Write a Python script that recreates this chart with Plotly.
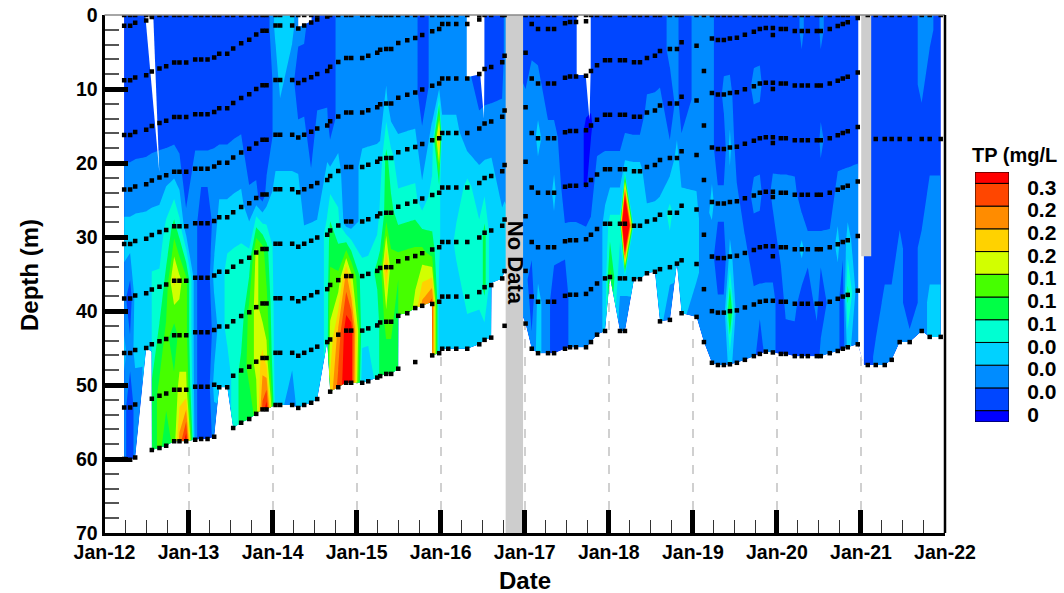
import numpy as np
import plotly.graph_objects as go

FONT = "Liberation Sans"

# Survey dates as decimal years
survey_dates = [
 2012.234,2012.305,2012.365,2012.496,2012.56,2012.563,2012.654,2012.734,2012.829,2012.892,2012.972,
 2013.079,2013.150,2013.226,2013.305,2013.365,2013.460,2013.531,2013.626,2013.722,2013.805,2013.880,2013.928,
 2014.035,2014.090,2014.233,2014.305,2014.376,2014.459,2014.531,2014.650,2014.685,2014.781,2014.876,2014.935,
 2015.066,2015.138,2015.245,2015.280,2015.352,2015.411,2015.495,2015.497,2015.602,2015.697,2015.780,2015.895,2015.899,2015.982,
 2016.018,2016.090,2016.185,2016.316,2016.459,2016.522,2016.601,2016.605,2016.732,2016.760,
 2017.010,2017.083,2017.158,2017.277,2017.349,2017.479,2017.539,2017.610,2017.729,2017.788,2017.860,2017.955,
 2018.014,2018.133,2018.192,2018.300,2018.371,2018.454,2018.549,2018.609,2018.727,2018.811,2018.866,
 2019.044,2019.132,2019.227,2019.298,2019.369,2019.441,2019.524,2019.619,2019.726,2019.797,2019.868,2019.952,
 2020.047,2020.106,2020.213,2020.296,2020.368,2020.475,2020.522,2020.629,2020.724,2020.784,2020.843,2020.962,
 2021.037,2021.081,2021.176,2021.283,2021.366,2021.461,2021.580,2021.723,2021.818,2021.949]

# Depth (m) of one fixed-elevation sampling row at each date; it moves with lake level
reference_row_depth = [
 16.2,16.2,15.8,15.5,15.0,15.0,14.6,14.3,13.8,13.8,13.8,
 13.4,13.4,13.4,13.1,12.6,12.6,11.9,11.2,10.7,10.0,9.5,9.5,
 8.8,8.8,8.8,9.2,8.8,8.4,7.97,7.57,7.0,6.35,5.8,5.8,
 5.8,5.5,5.1,4.7,4.6,4.6,3.8,3.8,3.4,3.1,2.7,2.2,2.2,1.9,
 1.2,1.2,1.2,1.2,0.6,-0.07,-0.35,-0.35,-1.0,-1.85,
 -2.27,1.2,1.9,1.9,1.9,1.1,0.95,0.95,0.84,0.2,-0.57,-1.26,
 -1.26,-1.26,-1.26,-1.0,-1.0,-1.57,-1.85,-2.5,-2.77,-2.77,-3.7,
 -3.2,0.2,-4.2,-4.0,-4.0,-4.2,-4.3,-4.7,-5.1,-5.47,-5.6,-5.6,
 -5.47,-5.47,-5.2,-5.2,-5.2,-5.2,-5.2,-5.47,-5.87,-6.17,-6.4,-6.97,
 -5.35,-5.35,-5.35,-5.35,-5.35,-5.35,-5.35,-5.35,-5.35,-5.35]

# Depth (m) of the deepest point at each date
bottom_depth = [
 60.0,60.1,59.8,45.0,45.5,58.8,58.5,58.2,57.6,57.6,57.6,
 57.4,57.3,57.3,57.0,50.3,50.3,55.8,55.1,54.6,53.9,53.3,53.3,
 52.7,52.7,52.7,53.1,52.7,52.4,51.9,44.2,50.9,50.3,49.7,49.7,
 49.7,49.5,49.0,48.8,48.5,48.5,47.8,40.5,40.3,39.6,39.3,38.8,46.0,45.7,
 45.1,45.1,45.1,45.1,44.5,43.9,43.6,36.2,35.6,34.6,
 41.7,45.1,45.7,45.7,45.7,45.1,44.9,44.9,44.9,44.2,43.2,42.7,
 35.4,42.7,42.7,35.7,35.7,34.9,34.7,41.4,41.2,33.6,40.3,
 40.8,44.2,47.0,47.3,47.3,47.2,47.0,46.6,46.1,45.8,45.5,45.6,
 45.8,45.8,46.1,46.1,46.1,46.1,46.1,45.7,45.4,45.1,44.9,44.5,
 47.3,47.3,47.3,47.3,46.6,44.2,44.2,42.7,43.5,43.5]

# TP (hundredths of mg/L), top sampled row downward, one profile per date
tp_profiles = [
 [1,1,1,5,7,4,7,4,4],[1,1,1,5,7,1,4,1,1],[1,1,1,5,7,7,7,4,4],[1,1,1,5,7,7,7],[1,1,1,5,7,7,7],
 [1,1,1,5,7,10,10,13,13],[1,1,5,7,10,13,16,16],[1,1,5,10,13,16,16,13],[1,1,5,13,22,13,16,16],[1,1,4,10,19,16,19,25],[1,1,1,4,16,16,19,32],
 [1,1,4,4,4,4,4,4],[1,1,4,1,1,1,1,1],[1,1,4,1,1,1,1,1],[1,1,4,4,7,4,7,4],[1,1,4,7,7,7,7,7],[1,1,4,7,10,10,7,7],[1,1,4,7,10,10,10,10],
 [1,1,4,7,10,10,13,13],[1,1,1,4,10,16,16,13],[1,1,1,4,19,19,19,16],[1,1,1,1,16,16,22,28],[1,1,1,4,13,16,19,32],
 [7,4,4,7,7,7,7,7],[7,7,4,7,7,7,7,7],[7,4,4,7,7,7,7,4],[4,1,4,7,7,7,7,7],[4,1,4,4,7,7,7,7],[1,1,1,4,7,7,7,7],[1,1,4,4,7,7,7,7],
 [1,1,4,7,10,10,10],[1,1,7,13,16,19,22],[4,4,7,10,16,25,28],[4,4,4,4,25,32,32],[4,4,4,4,19,32,32],
 [4,4,7,7,10,10,7],[4,4,7,7,10,10,7],[4,4,7,7,13,10,10],[4,4,7,10,13,13,13],[4,7,13,13,25,16,13],[4,4,10,13,16,16,13],[4,4,7,10,16,13,13],
 [4,4,7,10,16,16],[4,4,7,10,16,16],[4,4,7,10,16,19],[1,1,4,7,16,25],[4,4,7,10,13,28],[4,4,7,10,13,28,28],[4,4,25,10,10,7,7],
 [4,4,7,7,7,7,7],[4,4,7,7,7,7,7],[4,4,7,7,10,7,7],[4,4,4,10,10,10,7],[1,1,4,7,10,10,7],[1,4,7,13,13,7],[1,4,7,7,7,7],[1,4,7,7,7],[1,4,4,7,7],[4,4,4,7,7],
 [1,4,4,4,4,4],[1,4,4,4,4,1,4],[1,4,7,4,4,7,7],[1,1,4,4,4,4,4],[1,1,4,7,4,1,1],[1,1,1,1,4,1,1],[1,1,1,1,4,4,4],[1,1,1,1,4,4,4],
 [1,1,-0.3,-0.3,4,4,4],[1,1,-0.3,1,4,4,4],[1,1,4,4,4,4],[1,1,4,7,7,7],
 [1,1,4,10,16],[1,1,4,10,7,4],[1,1,7,55,7,4],[1,1,7,7,7],[1,1,7,7,7],[1,4,4,7,7],[1,4,4,7,7],[1,4,4,7,7,7],[4,1,4,10,7,4],[4,4,7,7,7],[1,1,4,7,7,7],
 [4,4,4,7,7,4],[4,4,4,4,4,4,4],[4,4,4,7,4,4,4],[1,1,1,4,1,4,4],[1,4,1,4,1,4,4],[1,4,7,4,7,16,7],[1,1,1,4,4,4,4],[1,1,1,1,4,4,4],[1,4,1,4,1,4,4],[1,4,1,4,1,4,1],[1,1,1,1,1,4,4],[1,1,1,4,1,4,4],
 [1,1,1,4,4,1,1],[1,1,1,4,4,4,1],[1,1,1,4,4,4,1],[4,1,1,1,7,1,1],[1,1,1,1,4,1,1],[1,1,1,1,4,4,1],[4,1,4,1,4,1,4],[1,1,1,1,4,4,4],[1,1,1,4,7,4,4],[1,1,1,4,4,1,1],[1,1,1,4,7,13,7],[1,1,1,4,4,4,4],
 [1,1,1,1,1,1,1],[1,1,1,1,1,1,1],[1,1,1,1,1,1,4],[1,1,1,1,1,4,4],[1,1,1,1,1,4,4],[1,1,1,1,4,4,4],[1,1,1,1,1,1,4],[4,4,1,1,4,4],[4,1,1,4,4,7,7],[1,1,1,4,4,7,7]]

# Columns that only square off the edge of the contour, no sample drawn there
edge_only_dates = [2012.56, 2015.497, 2015.895, 2016.605, 2021.037]
surface_tp = {2016.732: 13, 2016.760: 16}

# Samples that do not sit on the regular rows
extra_dates = [2015.697, 2016.760, 2019.952, 2019.952, 2019.952, 2019.952, 2019.952]
extra_depths = [46.9, 42.0, 2.7, 10.0, 17.3, 24.6, 32.6]

# Areas with no data inside the survey range
gap_shapes = [
 ([2012.485,2012.58,2012.652], [0,0,21.2]),
 ([2014.305,2014.464,2014.464,2014.305], [0,0,0.8,1.7]),
 ([2016.31,2016.52,2016.52,2016.515,2016.47,2016.31], [0,0,7.2,14,8,8.4]),
 ([2017.618,2017.785,2017.785,2017.77,2017.725,2017.618], [0,0,7.2,14.2,8.1,8.1]),
 ([2020.968,2021.035,2021.035,2020.968], [0,0,47.4,44.6]),
]
no_data_bars = [([2016.773,2016.98], 70, "No Data"), ([2021.003,2021.122], 32.6, "")]

row_spacing = 7.37
row_offsets = list(range(-2, 9))   # rows relative to the reference row, shallow to deep

level_start, level_end, level_size = 0.0, 0.30, 0.03
band_colors = ["#0000ff","#0046ff","#008cff","#00d2ff","#00ffd2","#00ff46",
               "#46ff00","#d2ff00","#ffd200","#ff8c00","#ff4600","#ff0000"]
level_labels = ["0","0.0","0.0","0.0","0.1","0.1","0.1","0.2","0.2","0.2","0.3"]
year_ticks = list(range(2012, 2023))
year_labels = [f"Jan-{str(y)[2:]}" for y in year_ticks]

# Build the warped mesh: surface row, sampling rows, bottom row
dates = np.array(survey_dates, float)
nrows = len(row_offsets) + 2
mesh_x = np.zeros((nrows, len(dates)))
mesh_y = np.zeros((nrows, len(dates)))
mesh_z = np.zeros((nrows, len(dates)))
mark_x, mark_y = [], []
for c, (d, ref, bot, prof) in enumerate(zip(survey_dates, reference_row_depth, bottom_depth, tp_profiles)):
    depths = [ref + k * row_spacing for k in row_offsets]
    first = next(i for i, v in enumerate(depths) if v > 0)
    col_y, col_z = [0.0], [surface_tp.get(d, prof[0])]
    for i, v in enumerate(depths):
        idx = max(i - first, 0)
        col_y.append(min(max(v, 0.0), bot))
        col_z.append(prof[min(idx, len(prof) - 1)])
    col_y.append(bot)
    col_z.append(prof[-1])
    mesh_x[:, c] = d
    mesh_y[:, c] = col_y
    mesh_z[:, c] = col_z
    if d in edge_only_dates:
        continue
    mark_x += [d, d]
    mark_y += [0.0, bot]
    for v in depths:
        if d > 2021:
            continue
        if 0.2 < v < bot - 1.0:
            mark_x.append(d)
            mark_y.append(v)
    if 2021.1 < d:
        mark_x.append(d)
        mark_y.append(16.76)
mark_x += extra_dates
mark_y += extra_depths

fig = go.Figure()
a_vals = list(range(len(dates)))
b_vals = list(range(nrows))
hidden = dict(showgrid=False, showline=False, showticklabels="none",
              startline=False, endline=False, smoothing=0, minorgridcount=0)
fig.add_trace(go.Carpet(a=a_vals, b=b_vals, x=mesh_x.tolist(), y=mesh_y.tolist(),
                        carpet="mesh", aaxis=hidden, baxis=hidden, xaxis="x", yaxis="y"))
n_bands = len(band_colors)
fig.add_trace(go.Contourcarpet(a=a_vals, b=b_vals, z=(mesh_z * 0.01).tolist(), carpet="mesh",
    autocontour=False, contours=dict(start=level_start, end=level_end, size=level_size, coloring="fill", showlines=False),
    line=dict(width=0, smoothing=0), showscale=False, xaxis="x", yaxis="y",
    colorscale=[[i / (n_bands - 1), c] for i, c in enumerate(band_colors)]))

for gx, gy in gap_shapes:
    fig.add_trace(go.Scatter(x=gx, y=gy, mode="lines", fill="toself", fillcolor="white",
                             line=dict(width=0, color="white"), hoverinfo="skip", showlegend=False))
for (bx, bdepth, _) in no_data_bars:
    fig.add_trace(go.Scatter(x=[bx[0], bx[1], bx[1], bx[0]], y=[0, 0, bdepth, bdepth], mode="lines", fill="toself",
                             fillcolor="#cdcdcd", line=dict(width=0, color="#cdcdcd"), hoverinfo="skip", showlegend=False))
fig.add_trace(go.Scatter(x=mark_x, y=mark_y, mode="markers", showlegend=False,
                         marker=dict(symbol="square", size=4.5, color="black", line=dict(width=0))))

# Legend drawn as stacked boxes on its own axes
box_edges = [level_start - level_size / 2] + [level_start + i * level_size for i in range(11)] + [level_end + level_size / 2]
fig.add_trace(go.Bar(x=[0] * n_bands, base=box_edges[:-1], y=np.diff(box_edges).tolist(), width=1,
                     marker=dict(color=band_colors, line=dict(color="black", width=1)),
                     xaxis="x2", yaxis="y2", showlegend=False, hoverinfo="skip"))

W, H = 1064, 593
def fx(px):
    return px / W
def fy(py):
    return 1 - py / H

fig.update_layout(
    width=W, height=H, margin=dict(l=0, r=0, t=0, b=0), paper_bgcolor="white", plot_bgcolor="white",
    showlegend=False, barmode="overlay",
    font=dict(family=FONT, color="black", size=20, weight=700),
    xaxis=dict(domain=[fx(104.5), fx(945)], range=[2012, 2022], tickmode="array", tickvals=year_ticks, ticktext=year_labels,
               ticks="inside", ticklen=23, tickwidth=5, tickcolor="black", showline=True, linewidth=3, linecolor="black",
               showgrid=True, gridcolor="#d0d0d0", griddash="dash", gridwidth=1.5, zeroline=False, automargin=False,
               tickfont=dict(family=FONT, size=19.5, weight=700), layer="above traces",
               minor=dict(ticks="inside", ticklen=13, tickwidth=1, tickcolor="#333333", dtick=0.25, tick0=2012, showgrid=False)),
    yaxis=dict(domain=[fy(533), fy(15)], range=[70, 0], tickmode="array", tickvals=list(range(0, 71, 10)),
               ticks="inside", ticklen=23, tickwidth=5, tickcolor="black", showline=True, linewidth=3, linecolor="black",
               showgrid=False, zeroline=False, automargin=False, tickfont=dict(family=FONT, size=19.5, weight=700), layer="above traces",
               minor=dict(ticks="inside", ticklen=14, tickwidth=1.5, tickcolor="#555555", dtick=2, tick0=0, showgrid=False)),
    xaxis2=dict(domain=[fx(975), fx(1009)], range=[-0.5, 0.5], showticklabels=False, ticks="", showgrid=False, zeroline=False,
                showline=False, anchor="y2", automargin=False),
    yaxis2=dict(domain=[fy(422), fy(172)], range=[box_edges[0], box_edges[-1]], anchor="x2", side="right",
                tickmode="array", tickvals=[level_start + i * level_size - 0.005 for i in range(11)], ticktext=level_labels,
                ticks="outside", ticklen=13, tickcolor="rgba(0,0,0,0)", showgrid=False, zeroline=False, showline=False, automargin=False,
                tickfont=dict(family=FONT, size=21, weight=700)),
    annotations=[
        dict(x=2016.885, y=33.5, xref="x", yref="y", text="No Data", textangle=90, showarrow=False,
             font=dict(family=FONT, size=22, weight=700)),
        dict(x=fx(1014), y=fy(155), xref="paper", yref="paper", text="TP (mg/L", showarrow=False, xanchor="center", yanchor="middle",
             font=dict(family=FONT, size=20, weight=700)),
        dict(x=fx(525), y=fy(580), xref="paper", yref="paper", text="Date", showarrow=False, xanchor="center", yanchor="middle",
             font=dict(family=FONT, size=24, weight=700)),
        dict(x=fx(29), y=fy(275), xref="paper", yref="paper", text="Depth (m)", textangle=-90, showarrow=False, xanchor="center", yanchor="middle",
             font=dict(family=FONT, size=24, weight=700)),
    ],
    shapes=[
        dict(type="line", xref="paper", yref="paper", x0=fx(104.5), x1=fx(945), y0=fy(15), y1=fy(15),
             line=dict(color="#888888", width=1.5)),
        dict(type="line", xref="paper", yref="paper", x0=fx(945), x1=fx(945), y0=fy(15), y1=fy(533),
             line=dict(color="black", width=2.5)),
    ],
)
fig.write_html("out.html", config={"displayModeBar": False},
               post_script="document.body.style.margin='0';document.body.style.overflow='hidden';")
